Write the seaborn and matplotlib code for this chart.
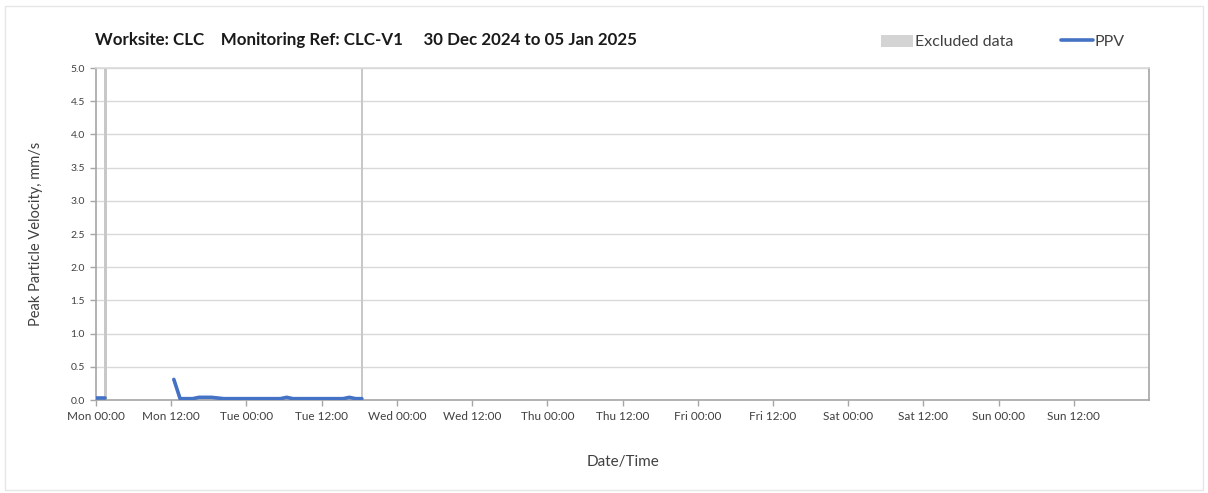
import numpy as np
import pandas as pd
import matplotlib
matplotlib.use("Agg")
import matplotlib.pyplot as plt
import matplotlib.dates as mdates
from matplotlib.patches import Patch, Rectangle
from matplotlib.lines import Line2D
import seaborn as sns

# ---- data ----
seg1_times = ["2024-12-30 00:00", "2024-12-30 00:30", "2024-12-30 01:00", "2024-12-30 01:30"]
seg1_ppv = [0.03, 0.03, 0.03, 0.03]

seg2_times = ["2024-12-30 12:25", "2024-12-30 13:25", "2024-12-30 14:25", "2024-12-30 15:25",
              "2024-12-30 16:25", "2024-12-30 17:25", "2024-12-30 18:25", "2024-12-30 19:25",
              "2024-12-30 20:25", "2024-12-30 21:25", "2024-12-30 22:25", "2024-12-30 23:25",
              "2024-12-31 00:25", "2024-12-31 01:25", "2024-12-31 02:25", "2024-12-31 03:25",
              "2024-12-31 04:25", "2024-12-31 05:25", "2024-12-31 06:25", "2024-12-31 07:25",
              "2024-12-31 08:25", "2024-12-31 09:25", "2024-12-31 10:25", "2024-12-31 11:25",
              "2024-12-31 12:25", "2024-12-31 13:25", "2024-12-31 14:25", "2024-12-31 15:25",
              "2024-12-31 16:25", "2024-12-31 17:25", "2024-12-31 18:25"]
seg2_ppv = [0.31, 0.02, 0.02, 0.02, 0.04, 0.04, 0.04, 0.03,
            0.02, 0.02, 0.02, 0.02, 0.02, 0.02, 0.02, 0.02,
            0.02, 0.02, 0.04, 0.02, 0.02, 0.02, 0.02, 0.02,
            0.02, 0.02, 0.02, 0.02, 0.04, 0.02, 0.02]

excluded_starts = ["2024-12-30 01:20", "2024-12-31 18:20"]
excluded_ends = ["2024-12-30 01:45", "2024-12-31 18:40"]

y_ticks = [0.0, 0.5, 1.0, 1.5, 2.0, 2.5, 3.0, 3.5, 4.0, 4.5, 5.0]
x_ticks = ["2024-12-30 00:00", "2024-12-30 12:00", "2024-12-31 00:00", "2024-12-31 12:00",
           "2025-01-01 00:00", "2025-01-01 12:00", "2025-01-02 00:00", "2025-01-02 12:00",
           "2025-01-03 00:00", "2025-01-03 12:00", "2025-01-04 00:00", "2025-01-04 12:00",
           "2025-01-05 00:00", "2025-01-05 12:00"]
x_start = "2024-12-30 00:00"
x_end = "2025-01-06 00:00"

title_text = "Worksite: CLC    Monitoring Ref: CLC-V1     30 Dec 2024 to 05 Jan 2025"

df = pd.concat([
    pd.DataFrame({"time": pd.to_datetime(seg1_times), "ppv": seg1_ppv, "segment": 1}),
    pd.DataFrame({"time": pd.to_datetime(seg2_times), "ppv": seg2_ppv, "segment": 2}),
], ignore_index=True)

# ---- style ----
sns.set_theme(style="white")
plt.rcParams['font.family'] = ['Lato', 'DejaVu Sans']

W, H = 1208, 493
fig = plt.figure(figsize=(W / 100, H / 100), dpi=100)
ax = fig.add_axes([96 / W, 1 - 400 / H, (1149 - 96) / W, (400 - 68) / H])

grid_c = "#d9d9d9"
spine_c = "#a6a6a6"
text_c = "#404040"
line_c = "#4472C4"
excl_c = "#c8c8c8"

for s, e in zip(excluded_starts, excluded_ends):
    ax.axvspan(pd.Timestamp(s), pd.Timestamp(e), color=excl_c, lw=0, zorder=1)

sns.lineplot(data=df, x="time", y="ppv", units="segment", estimator=None,
             color=line_c, linewidth=2.6, ax=ax, zorder=3, legend=False)

ax.set_xlim(pd.Timestamp(x_start), pd.Timestamp(x_end))
ax.set_ylim(0, 5.0)
ax.set_yticks(y_ticks)
ax.set_yticklabels([f"{v:.1f}" for v in y_ticks], fontsize=7.5, color=text_c)

tick_ts = pd.to_datetime(x_ticks)
ax.set_xticks(tick_ts)
ax.set_xticklabels([t.strftime("%a %H:%M") for t in tick_ts])
ax.xaxis.set_minor_locator(mdates.DayLocator())
ax.tick_params(axis="x", which="major", length=4, width=1, color=spine_c, direction="out",
               labelsize=8.5, labelcolor=text_c, pad=4, bottom=True)
ax.tick_params(axis="x", which="minor", length=0)
ax.tick_params(axis="y", length=4, width=1, color=spine_c, direction="out", left=True,
               labelsize=7.5, labelcolor=text_c, pad=4)

ax.grid(False)
ax.yaxis.grid(True, color=grid_c, linewidth=1)
ax.xaxis.grid(True, which="minor", color=grid_c, linewidth=1)
ax.set_axisbelow(True)

for name, sp in ax.spines.items():
    sp.set_visible(True)
    sp.set_linewidth(1.2)
    sp.set_color(spine_c if name != "top" else grid_c)

ax.set_xlabel("Date/Time", fontsize=11, color=text_c, labelpad=24)
ax.set_ylabel("Peak Particle Velocity, mm/s", fontsize=10.5, color=text_c, labelpad=20)

fig.text(95 / W, 1 - 40 / H, title_text, fontsize=12.2, fontweight="bold",
         color="#1a1a1a", ha="left", va="center")

handles = [Patch(facecolor="#d4d4d4", edgecolor="none", label="Excluded data"),
           Line2D([0], [0], color=line_c, lw=2.6, label="PPV")]
leg = fig.legend(handles=handles, loc="center", bbox_to_anchor=(1003 / W, 1 - 42 / H),
                 ncol=2, frameon=False, fontsize=11.5, handlelength=2.0, handleheight=0.8,
                 handletextpad=0.1, columnspacing=3.0)
for t in leg.get_texts():
    t.set_color(text_c)

fig.patches.append(Rectangle((5 / W, 3 / H), 1 - 10 / W, 1 - 9 / H, transform=fig.transFigure,
                             fill=False, edgecolor="#e6e6e6", linewidth=1))

fig.savefig("out.png", dpi=100, facecolor="white")
